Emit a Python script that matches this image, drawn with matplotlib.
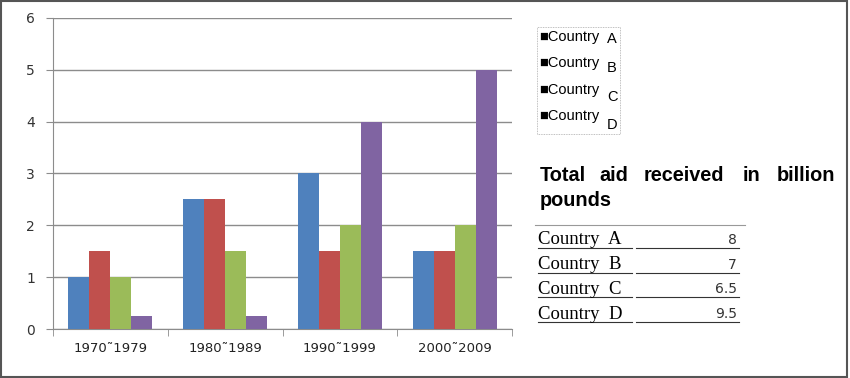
import matplotlib.pyplot as plt
import numpy as np
from matplotlib.patches import Rectangle

periods = ["1970˜1979", "1980˜1989", "1990˜1999", "2000˜2009"]
countries = ["A", "B", "C", "D"]
country_a = [1, 2.5, 3, 1.5]
country_b = [1.5, 2.5, 1.5, 1.5]
country_c = [1, 1.5, 2, 2]
country_d = [0.25, 0.25, 4, 5]
totals = ["8", "7", "6.5", "9.5"]
colors = ["#4F81BD", "#C0504D", "#9BBB59", "#8064A2"]
title_words = ["Total", "aid", "received", "in", "billion"]
title_x = [540, 599, 644, 743, 777]

fig = plt.figure(figsize=(8.5, 3.78), dpi=100)
ax = fig.add_axes([0.0624, 0.1296, 0.540, 0.823])

x = np.arange(len(periods))
w = 0.183
series = [country_a, country_b, country_c, country_d]
for i, vals in enumerate(series):
    ax.bar(x + (i - 1.5) * w, vals, w, color=colors[i], zorder=3)

ax.set_xlim(-0.5, 3.5)
ax.set_ylim(0, 6)
ax.set_yticks(range(7))
ax.yaxis.grid(True, color="#8c8c8c", lw=1, zorder=0)
ax.set_xticks(x)
ax.set_xticklabels(periods, fontsize=9.5, color="#222222")
ax.set_xticks(np.arange(-0.5, 4, 1), minor=True)
ax.tick_params(axis="x", which="major", length=0, pad=9)
ax.tick_params(axis="x", which="minor", length=5, color="#8c8c8c")
ax.tick_params(axis="y", length=5, color="#8c8c8c", labelsize=10, pad=8, labelcolor="#333333")
for s in ["top", "right"]:
    ax.spines[s].set_visible(False)
for s in ["left", "bottom"]:
    ax.spines[s].set_color("#8c8c8c")

# legend block
fig.patches.append(Rectangle((537 / 850, 1 - 134 / 378), 83 / 850, 107 / 378,
                             transform=fig.transFigure, fill=False, ls=(0, (1, 1)),
                             lw=0.6, ec="#aaaaaa"))
for i, c in enumerate(countries):
    yy = 1 - (37 + i * 26.3) / 378
    fig.text(539 / 850, yy, "■Country", fontsize=10.5, va="center", ha="left",
             family="Liberation Sans")
    fig.text(607 / 850, yy - (2 + i * 2.5) / 378, c, fontsize=10.5, va="center", ha="left",
             family="Liberation Sans")

# title
for word, wx in zip(title_words, title_x):
    fig.text(wx / 850, 1 - 175 / 378, word, fontsize=14.3,
             fontweight="bold", va="center", ha="left", family="Liberation Sans")
fig.text(540 / 850, 1 - 200 / 378, "pounds", fontsize=14.3,
         fontweight="bold", va="center", ha="left", family="Liberation Sans")

# table
fig.add_artist(plt.Line2D([535 / 850, 745 / 850], [1 - 225 / 378] * 2, color="#999999", lw=0.8))
for i, c in enumerate(countries):
    yy = 1 - (240 + i * 24.7) / 378
    fig.text(538 / 850, yy, "Country  " + c, fontsize=13.5, va="center", ha="left",
             family="Liberation Serif")
    fig.add_artist(plt.Line2D([538 / 850, 632 / 850], [yy - 8 / 378] * 2, color="#333333", lw=0.8))
    fig.add_artist(plt.Line2D([636 / 850, 739 / 850], [yy - 8 / 378] * 2, color="#333333", lw=0.8))
    fig.text(737 / 850, yy, totals[i], fontsize=10, va="center", ha="right",
             family="DejaVu Sans", color="#333333")

# outer frame
fig.patches.append(Rectangle((0.001, 0.002), 0.996, 0.995, transform=fig.transFigure,
                             fill=False, ec="#555555", lw=1.5))

fig.savefig("out.png", dpi=100)
